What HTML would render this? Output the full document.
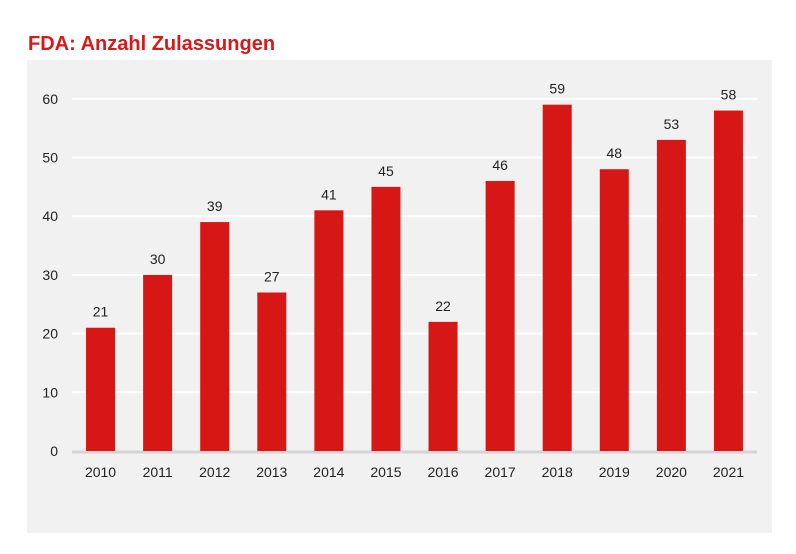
<!DOCTYPE html>
<html><head><meta charset="utf-8"><style>
body{margin:0;background:#fff;width:796px;height:549px;overflow:hidden;font-family:"Liberation Sans",sans-serif}
</style></head><body>
<svg width="796" height="549">
<text x="28" y="50" font-size="20" font-weight="bold" fill="#d7191a">FDA: Anzahl Zulassungen</text>
<rect x="27" y="60" width="745" height="473" fill="#f1f1f1"/>
<g id="grid"></g><g id="bars"></g><g id="labels"></g>
</svg>
<script>
const categories=["2010","2011","2012","2013","2014","2015","2016","2017","2018","2019","2020","2021"];
const values=[21,30,39,27,41,45,22,46,59,48,53,58];
const yTicks=[0,10,20,30,40,50,60];
const ns="http://www.w3.org/2000/svg";
const x0=72,x1=757,yBase=451,pxPer=5.87;
const band=(x1-x0)/categories.length;
const y=v=>yBase-v*pxPer;
const xc=i=>x0+band*(i+0.5);
function mk(t,a,p){const e=document.createElementNS(ns,t);for(const k in a)e.setAttribute(k,a[k]);p.appendChild(e);return e;}
const g=document.getElementById('grid'),b=document.getElementById('bars'),l=document.getElementById('labels');
yTicks.forEach(v=>{
 if(v>0){const ln=mk('line',{x1:x0,x2:x1,y1:y(v),y2:y(v),stroke:'#fff','stroke-width':2},g);
 
 }
 const t=mk('text',{x:58,y:y(v)+5,'text-anchor':'end','font-size':14,fill:'#222'},g);t.textContent=v;
 
 
});
const ax=mk('line',{x1:x0,x2:x1,y1:yBase+1,y2:yBase+1,stroke:'#d4d4d4','stroke-width':3},g);


categories.forEach((c,i)=>{
 const r=mk('rect',{x:xc(i)-14.5,y:y(values[i]),width:29,height:values[i]*pxPer,fill:'#d71616'},b);
 
 
 const v=mk('text',{x:xc(i),y:y(values[i])-11,'text-anchor':'middle','font-size':14,fill:'#222'},l);v.textContent=values[i];
 
 
 const t=mk('text',{x:xc(i),y:477,'text-anchor':'middle','font-size':14,fill:'#222'},l);t.textContent=c;
 
 
});
</script>
</body></html>
